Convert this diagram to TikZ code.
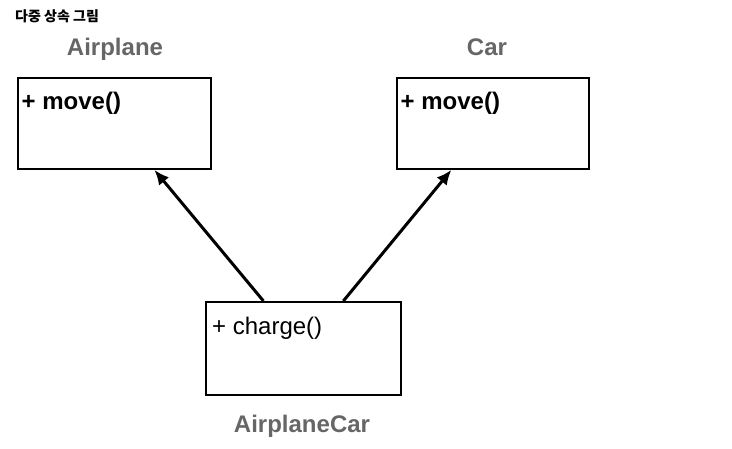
\documentclass[tikz,border=0pt]{standalone}
\usepackage{fontspec}
\setmainfont{Liberation Sans}
\newfontfamily\krfont{Noto Sans CJK KR}
\usetikzlibrary{arrows.meta,calc}
\definecolor{lblgray}{HTML}{666666}
\tikzset{
  classbox/.style={draw, line width=1.8pt, rectangle, inner sep=0pt, anchor=north west},
  classname/.style={text=lblgray, font=\fontsize{24}{26}\selectfont\bfseries, anchor=base, inner sep=0pt},
  member/.style={font=\fontsize{24}{26}\selectfont, anchor=base west, inner sep=0pt},
  inherit/.style={line width=3pt, -{Latex[length=15pt,width=13pt]}}
}
\begin{document}
\begin{tikzpicture}[x=1pt,y=-1pt]
\useasboundingbox (0,0) rectangle (732,449);
\node[anchor=base west, inner sep=0pt, font=\krfont\bfseries\fontsize{14}{16}\selectfont] (title) at (15,22) {다중 상속 그림};
% boxes
\node[classbox, minimum width=193pt, minimum height=91pt] (air) at (17,77) {};
\node[classbox, minimum width=192pt, minimum height=91pt] (car) at (396,77) {};
\node[classbox, minimum width=195pt, minimum height=93pt] (ac) at (205,301) {};
% names
\node[classname] (airname) at (115,56) {Airplane};
\node[classname] (carname) at (487,56) {Car};
\node[classname] (acname) at (302,433) {AirplaneCar};
% members
\node[member, font=\fontsize{24}{26}\selectfont\bfseries] (airm) at (21.5,110) {+ move()};
\node[member, font=\fontsize{24}{26}\selectfont\bfseries] (carm) at (400.5,110) {+ move()};
\node[member] (acm) at (212,335) {+ charge()};
% arrows
\draw[inherit] ($(ac.north west)!0.297!(ac.north east)$) -- ($(air.south west)!0.705!(air.south east)$);
\draw[inherit] ($(ac.north west)!0.703!(ac.north east)$) -- ($(car.south west)!0.286!(car.south east)$);
\end{tikzpicture}
\end{document}
